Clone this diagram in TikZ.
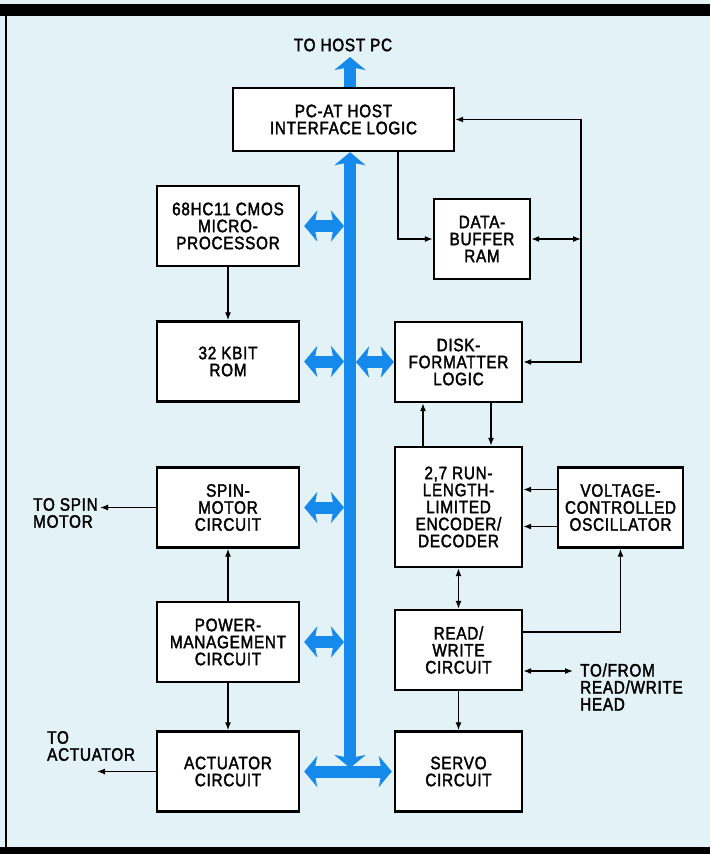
\documentclass[tikz,border=0pt]{standalone}
\usepackage{fontspec}
\setmainfont{Liberation Sans}[FakeStretch=0.85,FakeBold=2,LetterSpace=4]
\usetikzlibrary{arrows.meta}
\definecolor{paper}{RGB}{226,242,246}
\definecolor{busblue}{RGB}{22,138,236}

\begin{document}
\begin{tikzpicture}[x=1pt, y=-1pt,
		>={Latex[length=8pt,width=6pt]},
		fat/.tip={Stealth[length=13pt,width=31pt,inset=3pt]},
		blk/.style={draw=black, line width=2.4pt, fill=white, align=center, inner sep=0pt,
			minimum width=142pt, minimum height=80pt, font=\fontsize{18}{17}\selectfont},
		rbox/.style={minimum width=127pt},
		lbl/.style={align=left, inner sep=0pt, font=\fontsize{18}{17}\selectfont},
		wire/.style={line width=1.3pt},
		bus/.style={line width=12pt, busblue}]
	\useasboundingbox (0,0) rectangle (710,854);
	% page ground and frame
	\fill[paper] (0,0) rectangle (710,854);
	\fill[black] (0,4) rectangle (710,16);
	\fill[black] (5,16) rectangle (7,847);
	\fill[black] (0,847) rectangle (710,854);
	
	% blocks
	\node[blk, minimum width=221pt, minimum height=63pt] (host) at (343.5,119.5) {PC-AT HOST\\INTERFACE LOGIC};
	\node[blk] (cpu) at (228,226) {68HC11 CMOS\\MICRO-\\PROCESSOR};
	\node[blk, minimum width=96pt] (ram) at (482,239) {DATA-\\BUFFER\\RAM};
	\node[blk] (rom) at (228,361.5) {32 KBIT\\ROM};
	\node[blk, rbox] (fmt) at (458.5,362) {DISK-\\FORMATTER\\LOGIC};
	\node[blk, rbox, minimum height=120pt] (rll) at (458.5,507) {2,7 RUN-\\LENGTH-\\LIMITED\\ENCODER/\\DECODER};
	\node[blk, minimum width=125pt] (vco) at (620.5,507.5) {VOLTAGE-\\CONTROLLED\\OSCILLATOR};
	\node[blk] (spin) at (228,507.5) {SPIN-\\MOTOR\\CIRCUIT};
	\node[blk] (power) at (228,642) {POWER-\\MANAGEMENT\\CIRCUIT};
	\node[blk, rbox] (rw) at (458.5,650) {READ/\\WRITE\\CIRCUIT};
	\node[blk] (act) at (228,771.5) {ACTUATOR\\CIRCUIT};
	\node[blk, rbox] (servo) at (458.5,771.5) {SERVO\\CIRCUIT};
	
	% outside labels
	\node[lbl] (tohost) at (343,45) {TO HOST PC};
	\node[lbl, anchor=west] (tospin) at (33,513) {TO SPIN\\MOTOR};
	\node[lbl, anchor=west] (toact) at (47,746) {TO\\ACTUATOR};
	\node[lbl, anchor=west] (tohead) at (580,687) {TO/FROM\\READ/WRITE\\HEAD};
	\coordinate (spinend) at (100,507.5);
	\coordinate (actend) at (97,771.5);
	\coordinate (headend) at (573,671);
	\coordinate (rail) at (581,300);
	
	% system bus
	\coordinate (busTop) at (350,57);
	\coordinate (busEnd) at (350,768);
	\coordinate (busL) at (344,0);
	\coordinate (busR) at (356,0);
	\draw[bus, -fat] (host.north -| busTop) -- (busTop);
	\draw[bus, fat-fat] (busEnd) -- (host.south -| busEnd);
	\draw[bus, fat-fat] ([xshift=4pt]act.east) -- ([xshift=-2pt]servo.west);
	\foreach \b in {cpu, rom, spin, power}
		\draw[bus, fat-fat] ([xshift=4pt]\b.east) -- (\b.east -| busL);
	\draw[bus, fat-fat] (fmt.west -| busR) -- (fmt.west);
	
	% control lines
	\draw[wire, ->] (cpu) -- (rom);
	\draw[wire, ->] (power) -- (spin);
	\draw[wire, ->] (power) -- (act);
	\draw[wire, ->] (spin.west) -- (spinend);
	\draw[wire, ->] (act.west) -- (actend);
	\draw[wire, ->] ([xshift=54.5pt]host.south) |- (ram.west);
	\draw[wire, <->] (host.east) -| (rail) |- (fmt.east);
	\draw[wire, <->] (ram.east) -- (ram.east -| rail);
	\draw[wire, ->] ([xshift=32.5pt]fmt.south) -- ([xshift=32.5pt]rll.north);
	\draw[wire, <-] ([xshift=-35.5pt]fmt.south) -- ([xshift=-35.5pt]rll.north);
	\draw[wire, ->] ([yshift=18pt]vco.west) -- ([yshift=18pt]vco.west -| rll.east);
	\draw[wire, ->] ([yshift=-19pt]vco.west) -- ([yshift=-19pt]vco.west -| rll.east);
	\draw[wire, <->] (rll) -- (rw);
	\draw[wire, ->] ([yshift=18pt]rw.east) -| (vco.south);
	\draw[wire, <->] ([yshift=-21pt]rw.east) -- (headend);
	\draw[wire, ->] (rw) -- (servo);
\end{tikzpicture}
\end{document}
